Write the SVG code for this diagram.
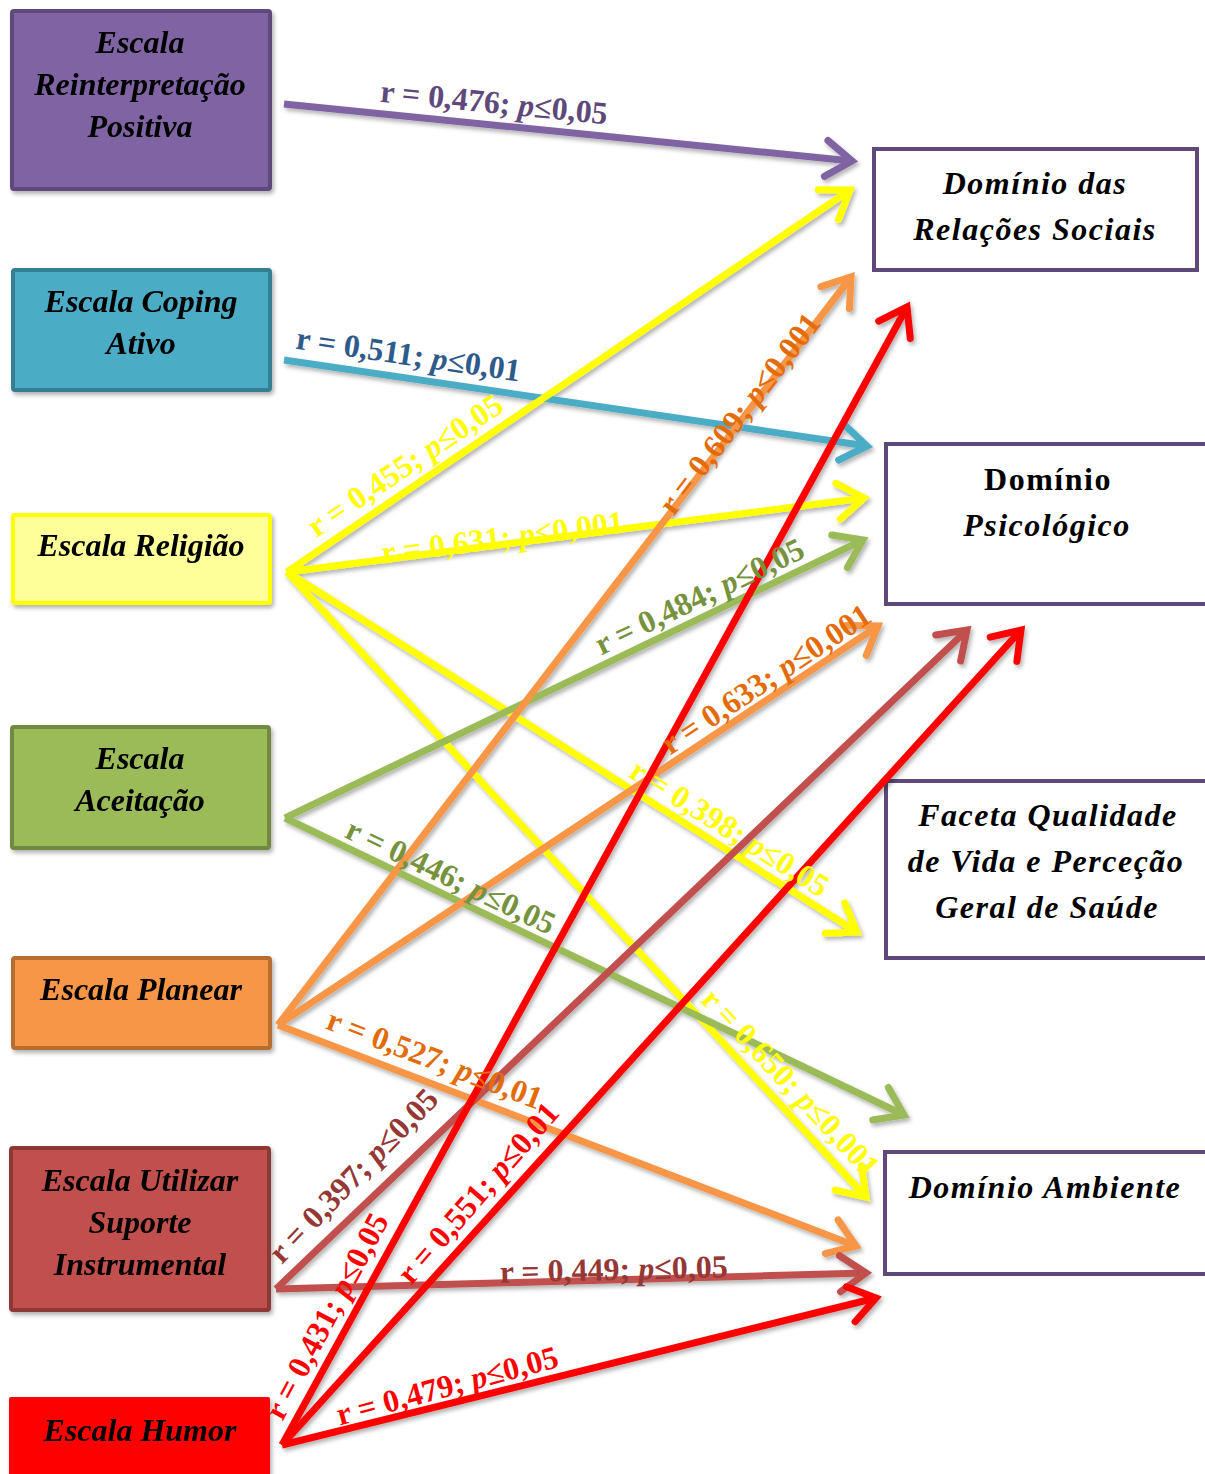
<svg xmlns="http://www.w3.org/2000/svg" width="1205" height="1474" viewBox="0 0 1205 1474">
<style>
.bt{font-family:"Liberation Serif","Times New Roman",serif;font-weight:bold;font-style:italic;font-size:32px;fill:#000;text-anchor:middle}
.rt{font-family:"Liberation Serif","Times New Roman",serif;font-weight:bold;font-style:italic;font-size:32px;letter-spacing:1.5px;fill:#000;text-anchor:middle}
.lb{font-family:"Liberation Serif","Times New Roman",serif;font-weight:bold;font-size:32px;text-anchor:middle}
.ln{fill:none;stroke-width:7;stroke-linecap:butt}
.rbox{fill:#fff;stroke:#5F497A;stroke-width:4}
.it{font-style:italic}
</style>
<defs>
<filter id="sh" x="-10%" y="-10%" width="120%" height="120%">
<feDropShadow dx="2" dy="3" stdDeviation="2" flood-color="#000" flood-opacity="0.3"/>
</filter>
<marker id="mPu" markerUnits="userSpaceOnUse" markerWidth="60" markerHeight="60" viewBox="-40 -30 60 60" refX="0" refY="0" orient="auto" overflow="visible"><path d="M-26,-18 L0,0 L-26,18" fill="none" stroke="#8064A2" stroke-width="7" stroke-linecap="round"/></marker>
<marker id="mTe" markerUnits="userSpaceOnUse" markerWidth="60" markerHeight="60" viewBox="-40 -30 60 60" refX="0" refY="0" orient="auto" overflow="visible"><path d="M-26,-18 L0,0 L-26,18" fill="none" stroke="#4BACC6" stroke-width="7" stroke-linecap="round"/></marker>
<marker id="mYe" markerUnits="userSpaceOnUse" markerWidth="60" markerHeight="60" viewBox="-40 -30 60 60" refX="0" refY="0" orient="auto" overflow="visible"><path d="M-26,-18 L0,0 L-26,18" fill="none" stroke="#FFFF00" stroke-width="7" stroke-linecap="round"/></marker>
<marker id="mGr" markerUnits="userSpaceOnUse" markerWidth="60" markerHeight="60" viewBox="-40 -30 60 60" refX="0" refY="0" orient="auto" overflow="visible"><path d="M-26,-18 L0,0 L-26,18" fill="none" stroke="#9BBB59" stroke-width="7" stroke-linecap="round"/></marker>
<marker id="mOr" markerUnits="userSpaceOnUse" markerWidth="60" markerHeight="60" viewBox="-40 -30 60 60" refX="0" refY="0" orient="auto" overflow="visible"><path d="M-26,-18 L0,0 L-26,18" fill="none" stroke="#F79646" stroke-width="7" stroke-linecap="round"/></marker>
<marker id="mBr" markerUnits="userSpaceOnUse" markerWidth="60" markerHeight="60" viewBox="-40 -30 60 60" refX="0" refY="0" orient="auto" overflow="visible"><path d="M-26,-18 L0,0 L-26,18" fill="none" stroke="#C0504D" stroke-width="7" stroke-linecap="round"/></marker>
<marker id="mRe" markerUnits="userSpaceOnUse" markerWidth="60" markerHeight="60" viewBox="-40 -30 60 60" refX="0" refY="0" orient="auto" overflow="visible"><path d="M-26,-18 L0,0 L-26,18" fill="none" stroke="#FF0000" stroke-width="7" stroke-linecap="round"/></marker>
</defs>
<rect width="1205" height="1474" fill="#fff"/>

<!-- Left nodes -->
<g id="n-reinterpretacao" filter="url(#sh)">
<rect x="12" y="11" width="258" height="178" rx="2" fill="#8064A2" stroke="#5F497A" stroke-width="4"/>
<text class="bt" x="140" y="53">Escala</text>
<text class="bt" x="140" y="95">Reinterpretação</text>
<text class="bt" x="140" y="137">Positiva</text>
</g>
<g id="n-coping" filter="url(#sh)">
<rect x="13" y="270" width="257" height="120" rx="2" fill="#4BACC6" stroke="#357F93" stroke-width="4"/>
<text class="bt" x="141" y="312">Escala Coping</text>
<text class="bt" x="141" y="354">Ativo</text>
</g>
<g id="n-religiao" filter="url(#sh)">
<rect x="13" y="515" width="257" height="88" rx="2" fill="#FFFF99" stroke="#FFFF00" stroke-width="4"/>
<text class="bt" x="141" y="556">Escala Religião</text>
</g>
<g id="n-aceitacao" filter="url(#sh)">
<rect x="12" y="727" width="257" height="121" rx="2" fill="#9BBB59" stroke="#71893F" stroke-width="4"/>
<text class="bt" x="140" y="769">Escala</text>
<text class="bt" x="140" y="811">Aceitação</text>
</g>
<g id="n-planear" filter="url(#sh)">
<rect x="13" y="958" width="257" height="90" rx="2" fill="#F79646" stroke="#B66D31" stroke-width="4"/>
<text class="bt" x="141" y="1000">Escala Planear</text>
</g>
<g id="n-suporte" filter="url(#sh)">
<rect x="11" y="1148" width="258" height="162" rx="2" fill="#C0504D" stroke="#8C3836" stroke-width="4"/>
<text class="bt" x="140" y="1191">Escala Utilizar</text>
<text class="bt" x="140" y="1233">Suporte</text>
<text class="bt" x="140" y="1275">Instrumental</text>
</g>
<g id="n-humor" filter="url(#sh)">
<rect x="9" y="1397" width="261" height="90" rx="2" fill="#FF0000"/>
<text class="bt" x="140" y="1441">Escala Humor</text>
</g>

<!-- Right nodes -->
<g id="n-relacoes">
<rect class="rbox" x="874" y="149" width="323" height="121"/>
<text class="rt" x="1035" y="194">Domínio das</text>
<text class="rt" x="1035" y="240">Relações Sociais</text>
</g>
<g id="n-psicologico">
<rect class="rbox" x="886" y="444" width="330" height="160"/>
<text class="rt" x="1048" y="490" style="font-style:normal">Domínio</text>
<text class="rt" x="1047" y="536">Psicológico</text>
</g>
<g id="n-faceta">
<rect class="rbox" x="886" y="781" width="330" height="177"/>
<text class="rt" x="1048" y="826">Faceta Qualidade</text>
<text class="rt" x="1046" y="872">de Vida e Perceção</text>
<text class="rt" x="1047" y="918">Geral de Saúde</text>
</g>
<g id="n-ambiente">
<rect class="rbox" x="885" y="1152" width="330" height="122"/>
<text class="rt" x="1045" y="1198">Domínio Ambiente</text>
</g>

<!-- Connectors -->
<g id="connectors">
<g filter="url(#sh)">
<line class="ln" stroke="#8064A2" x1="284" y1="104" x2="852" y2="161" marker-end="url(#mPu)"/>
<line class="ln" stroke="#4BACC6" x1="284" y1="360" x2="867" y2="446" marker-end="url(#mTe)"/>
<line class="ln" stroke="#FFFF00" x1="287" y1="572" x2="850" y2="190" marker-end="url(#mYe)"/>
<line class="ln" stroke="#FFFF00" x1="287" y1="572" x2="864" y2="498" marker-end="url(#mYe)"/>
<line class="ln" stroke="#FFFF00" x1="287" y1="572" x2="857" y2="932" marker-end="url(#mYe)"/>
<line class="ln" stroke="#FFFF00" x1="287" y1="572" x2="866" y2="1197" marker-end="url(#mYe)"/>
<line class="ln" stroke="#9BBB59" x1="285" y1="818" x2="863" y2="540" marker-end="url(#mGr)"/>
<line class="ln" stroke="#9BBB59" x1="285" y1="818" x2="904" y2="1115" marker-end="url(#mGr)"/>
<line class="ln" stroke="#F79646" x1="278" y1="1025" x2="851" y2="277" marker-end="url(#mOr)"/>
<line class="ln" stroke="#F79646" x1="278" y1="1025" x2="878" y2="626" marker-end="url(#mOr)"/>
<line class="ln" stroke="#F79646" x1="278" y1="1025" x2="856" y2="1246" marker-end="url(#mOr)"/>
<line class="ln" stroke="#C0504D" x1="276" y1="1289" x2="967" y2="630" marker-end="url(#mBr)"/>
<line class="ln" stroke="#C0504D" x1="276" y1="1289" x2="866" y2="1273" marker-end="url(#mBr)"/>
<line class="ln" stroke="#FF0000" x1="282" y1="1445" x2="907" y2="307" marker-end="url(#mRe)"/>
<line class="ln" stroke="#FF0000" x1="282" y1="1445" x2="1021" y2="630" marker-end="url(#mRe)"/>
<line class="ln" stroke="#FF0000" x1="282" y1="1445" x2="876" y2="1298" marker-end="url(#mRe)"/>
</g>
<g id="labels">
<text class="lb" fill="#5F497A" transform="translate(493,113) rotate(5.7)">r = 0,476; <tspan class="it">p</tspan>≤0,05</text>
<text class="lb" fill="#2F5A8C" transform="translate(407,365) rotate(8.4)">r = 0,511; <tspan class="it">p</tspan>≤0,01</text>
<text class="lb" fill="#FFFF00" transform="translate(411,474) rotate(-34.1)">r = 0,455; <tspan class="it">p</tspan>≤0,05</text>
<text class="lb" fill="#FFFF00" transform="translate(504,548) rotate(-7.3)">r = 0,631; <tspan class="it">p</tspan>≤0,001</text>
<text class="lb" fill="#FFFF00" transform="translate(724,837) rotate(32.3)">r = 0,398; <tspan class="it">p</tspan>≤0,05</text>
<text class="lb" fill="#FFFF00" transform="translate(783,1090) rotate(47)">r = 0,650; <tspan class="it">p</tspan>≤0,001</text>
<text class="lb" fill="#76923C" transform="translate(704,606) rotate(-25.7)">r = 0,484; <tspan class="it">p</tspan>≤0,05</text>
<text class="lb" fill="#76923C" transform="translate(446,886) rotate(25.6)">r = 0,446; <tspan class="it">p</tspan>≤0,05</text>
<text class="lb" fill="#E36C09" transform="translate(748,420) rotate(-52.5)">r = 0,609; <tspan class="it">p</tspan>≤0,001</text>
<text class="lb" fill="#E36C09" transform="translate(772,688) rotate(-33.6)">r = 0,633; <tspan class="it">p</tspan>≤0,001</text>
<text class="lb" fill="#E36C09" transform="translate(431,1069) rotate(20.9)">r = 0,527; <tspan class="it">p</tspan>≤0,01</text>
<text class="lb" fill="#953735" transform="translate(361,1183) rotate(-46)">r = 0,397; <tspan class="it">p</tspan>≤0,05</text>
<text class="lb" fill="#953735" transform="translate(614,1280) rotate(-1.4)">r = 0,449; <tspan class="it">p</tspan>≤0,05</text>
<text class="lb" fill="#FF0000" transform="translate(336,1321) rotate(-62)">r = 0,431; <tspan class="it">p</tspan>≤0,05</text>
<text class="lb" fill="#FF0000" transform="translate(486,1200) rotate(-49)">r = 0,551; <tspan class="it">p</tspan>≤0,01</text>
<text class="lb" fill="#FF0000" transform="translate(450,1396) rotate(-15)">r = 0,479; <tspan class="it">p</tspan>≤0,05</text>
</g>
</g>
</svg>
